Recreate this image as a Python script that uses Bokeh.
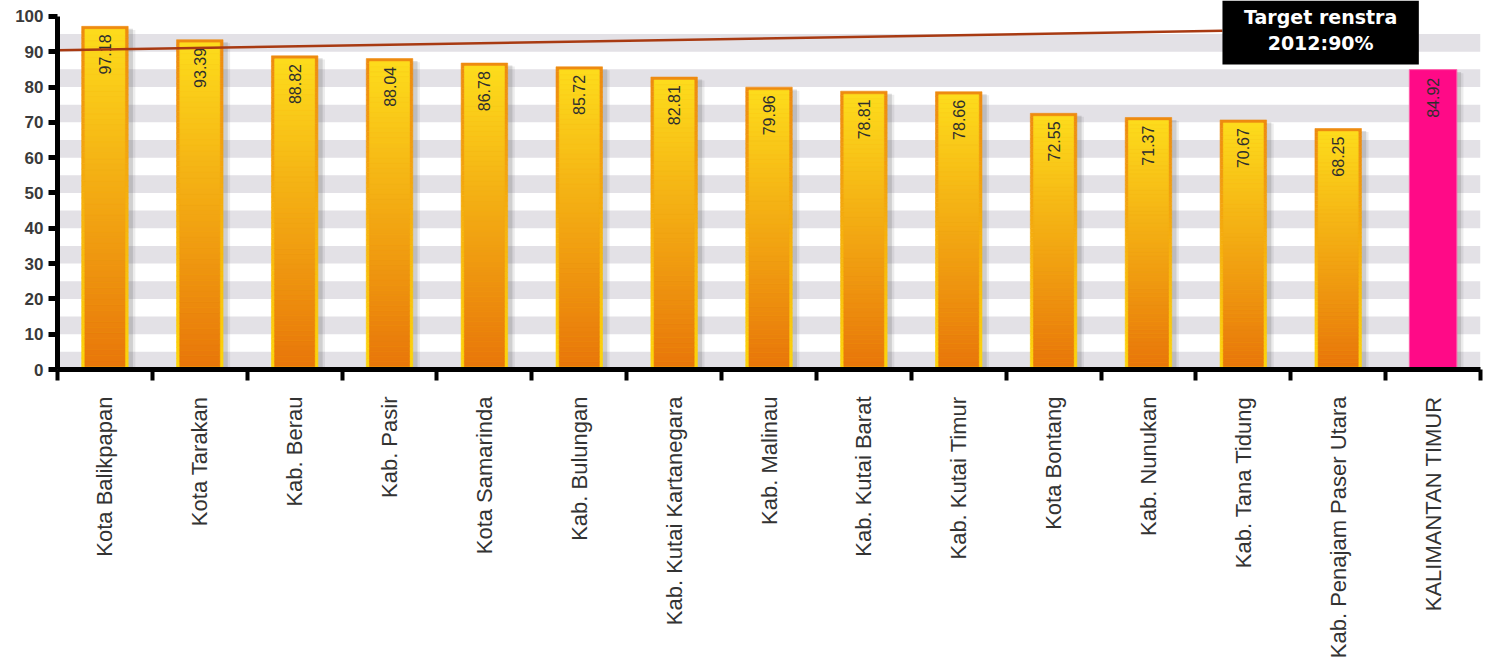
import numpy as np
from math import pi
from bokeh.plotting import figure
from bokeh.models import Range1d, FixedTicker, ColumnDataSource
from bokeh.core.properties import value
from bokeh.embed import file_html
from bokeh.resources import INLINE

# ---- data ----
categories = ["Kota Balikpapan", "Kota Tarakan", "Kab. Berau", "Kab. Pasir",
              "Kota Samarinda", "Kab. Bulungan", "Kab. Kutai Kartanegara",
              "Kab. Malinau", "Kab. Kutai Barat", "Kab. Kutai Timur",
              "Kota Bontang", "Kab. Nunukan", "Kab. Tana Tidung",
              "Kab. Penajam Paser Utara", "KALIMANTAN TIMUR"]
values = [97.18, 93.39, 88.82, 88.04, 86.78, 85.72, 82.81, 79.96, 78.81,
          78.66, 72.55, 71.37, 70.67, 68.25, 84.92]
highlight = "KALIMANTAN TIMUR"
target_line_start = 90.4   # drawn target line, left end (as in picture)
target_line_end = 95.9     # drawn target line, right end (as in picture)
target_label = ["Target renstra", "2012:90%"]
y_ticks = list(range(0, 101, 10))

# ---- figure ----
n = len(categories)
xc = np.arange(n) + 0.5
vals = np.array(values)
YMAX = 104.5

p = figure(width=1488, height=661, x_range=Range1d(0, n), y_range=Range1d(0, YMAX),
           output_backend="svg", toolbar_location=None,
           min_border_left=57, min_border_right=8, min_border_top=0, min_border_bottom=291)
p.outline_line_color = None
p.grid.visible = False
p.background_fill_color = "white"

# grey bands
band_bottoms = np.array(y_ticks[:-1], dtype=float)
p.quad(left=0, right=n, bottom=band_bottoms, top=band_bottoms + 5,
       fill_color="#e3e1e6", line_color=None)


def hex2rgb(h):
    h = h.lstrip("#")
    return np.array([int(h[i:i + 2], 16) for i in (0, 2, 4)], dtype=float)


def lerp(c1, c2, t):
    a, b = hex2rgb(c1), hex2rgb(c2)
    c = a + (b - a) * t
    return "#%02x%02x%02x" % tuple(int(round(v)) for v in c)


FILL_BOT, FILL_TOP = "#e8760a", "#fddc1c"
EDGE_BOT, EDGE_TOP = "#fdd50c", "#ee8a10"
N = 60
W_OUT = 0.49
BD_X = 0.034
BD_Y = 0.85

mask = np.array([c != highlight for c in categories])
hi = ~mask

# shadows
p.vbar(x=xc + 0.075, width=W_OUT, top=vals - 1.0, bottom=-1,
       fill_color="#6a6a6a", fill_alpha=0.12, line_color=None)
p.vbar(x=xc + 0.05, width=W_OUT, top=vals - 0.7, bottom=-1,
       fill_color="#6a6a6a", fill_alpha=0.22, line_color=None)

# gradient bars built in slices from the values
ox, ob, ot, oc = [], [], [], []
ix, ib, it, ic = [], [], [], []
for i in np.where(mask)[0]:
    v = vals[i]
    for k in range(N):
        f = (k + 0.5) / N
        ox.append(xc[i]); ob.append(v * k / N); ot.append(v * (k + 1) / N)
        oc.append(lerp(EDGE_BOT, EDGE_TOP, f))
        inner = v - 2 * BD_Y
        ix.append(xc[i]); ib.append(BD_Y + inner * k / N); it.append(BD_Y + inner * (k + 1) / N)
        ic.append(lerp(FILL_BOT, FILL_TOP, f))

p.vbar(source=ColumnDataSource(dict(x=ox, b=ob, t=ot, c=oc)), x="x", width=W_OUT,
       bottom="b", top="t", fill_color="c", line_color="c", line_width=0.6)
p.vbar(source=ColumnDataSource(dict(x=ix, b=ib, t=it, c=ic)), x="x", width=W_OUT - 2 * BD_X,
       bottom="b", top="t", fill_color="c", line_color="c", line_width=0.6)

# highlighted (province) bar
p.vbar(x=xc[hi], width=0.5, top=vals[hi], bottom=0,
       fill_color="#ff0a87", line_color="#ff5aa8", line_width=1)

# value labels
p.text(x=xc, y=vals - 2.3, text=[f"{v:.2f}" for v in values], angle=pi / 2,
       text_align="right", text_baseline="middle",
       text_font=value("Liberation Sans"), text_font_size="16px", text_color="#2e2e2e")

# target line and box
BOX_L, BOX_R = 12.28, 14.35
p.line(x=[0, BOX_L], y=[target_line_start, target_line_end], line_color="#a83a12", line_width=2.5)
p.quad(left=BOX_L, right=BOX_R, bottom=86.4, top=YMAX, fill_color="black", line_color=None)
p.text(x=[(BOX_L + BOX_R) / 2] * 2, y=[99.7, 92.4], text=target_label,
       text_align="center", text_baseline="middle",
       text_font=value("DejaVu Sans"), text_font_style="bold",
       text_font_size="19px", text_color="white")

# x axis
xa = p.xaxis[0]
xa.ticker = FixedTicker(ticks=[float(x) for x in xc], minor_ticks=list(range(n + 1)))
xa.major_label_overrides = {float(x): c for x, c in zip(xc, categories)}
xa.major_label_orientation = pi / 2
xa.major_tick_out = 0
xa.major_tick_in = 0
xa.minor_tick_out = 11
xa.minor_tick_in = 0
xa.minor_tick_line_width = 4
xa.minor_tick_line_color = "black"
xa.axis_line_width = 5
xa.axis_line_color = "black"
xa.major_label_standoff = 16
xa.major_label_text_font = "Liberation Sans"
xa.major_label_text_font_size = "22px"
xa.major_label_text_color = "#333333"

# y axis
ya = p.yaxis[0]
ya.ticker = FixedTicker(ticks=y_ticks)
ya.bounds = (0, 100)
ya.major_tick_out = 9
ya.major_tick_in = 0
ya.major_tick_line_width = 5
ya.major_tick_line_color = "black"
ya.minor_tick_out = 0
ya.minor_tick_in = 0
ya.axis_line_width = 5
ya.axis_line_color = "black"
ya.major_label_standoff = 5
ya.major_label_text_font = "Liberation Sans"
ya.major_label_text_font_style = "bold"
ya.major_label_text_font_size = "17px"
ya.major_label_text_color = "#3a3a3a"

open("out.html", "w").write(file_html(p, INLINE))
